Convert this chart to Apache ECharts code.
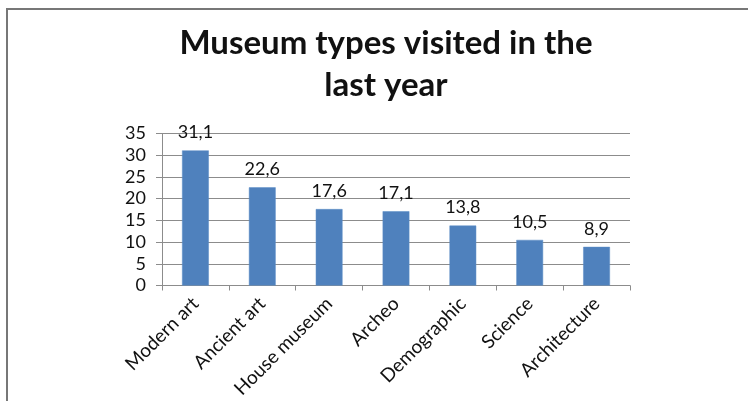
<!DOCTYPE html>
<html>
<head>
<meta charset="utf-8">
<script src="https://cdn.jsdelivr.net/npm/echarts@6/dist/echarts.min.js"></script>
<style>
  html, body { margin: 0; padding: 0; background: #fff; }
  #chart { width: 748px; height: 401px; }
</style>
</head>
<body>
<div id="chart"></div>
<script>
// Museum types and the share of visitors for each
const categories = ['Modern art', 'Ancient art', 'House museum', 'Archeo', 'Demographic', 'Science', 'Architecture'];
const visits = [31.1, 22.6, 17.6, 17.1, 13.8, 10.5, 8.9];
const yTicks = [0, 5, 10, 15, 20, 25, 30, 35];

const FONT = 'Lato, "Open Sans", sans-serif';

const chart = echarts.init(document.getElementById('chart'), null, { renderer: 'canvas' });

chart.setOption({
  backgroundColor: '#ffffff',
  animation: false,
  title: {
    text: 'Museum types visited in the\nlast year',
    left: 381,
    top: 17,
    textAlign: 'center',
    textStyle: {
      fontFamily: FONT,
      fontWeight: 'bold',
      fontSize: 33,
      lineHeight: 42,
      color: '#111111'
    }
  },
  graphic: [{
    type: 'rect',
    shape: { x: 7, y: 9, width: 800, height: 500 },
    style: { fill: 'none', stroke: '#777777', lineWidth: 2 },
    silent: true,
    z: 100
  }],
  grid: {
    left: 162, right: 118, top: 133.5, bottom: 115.5,
    containLabel: false,
    outerBoundsMode: 'none'
  },
  xAxis: {
    type: 'category',
    data: categories,
    axisLine: { lineStyle: { color: '#8c8c8c', width: 1 } },
    axisTick: { show: true, length: 5, lineStyle: { color: '#8c8c8c' } },
    axisLabel: {
      rotate: 45,
      margin: 15,
      fontFamily: FONT,
      fontSize: 19,
      color: '#111111'
    }
  },
  yAxis: {
    type: 'value',
    min: yTicks[0],
    max: yTicks[yTicks.length - 1],
    interval: 5,
    axisLine: { show: true, lineStyle: { color: '#8c8c8c', width: 1 } },
    axisTick: { show: true, length: 6, lineStyle: { color: '#8c8c8c' } },
    axisLabel: {
      margin: 16,
      fontFamily: FONT,
      fontSize: 18,
      color: '#111111'
    },
    splitLine: { lineStyle: { color: '#8c8c8c', width: 1 } }
  },
  series: [{
    type: 'bar',
    data: visits,
    barCategoryGap: '60%',
    itemStyle: { color: '#4F81BD', borderColor: '#5b8cc7', borderWidth: 0.5 },
    label: {
      show: true,
      position: 'top',
      distance: 9,
      fontFamily: FONT,
      fontSize: 18,
      color: '#111111',
      formatter: p => String(p.value).replace('.', ',')
    }
  }]
});
</script>
</body>
</html>
